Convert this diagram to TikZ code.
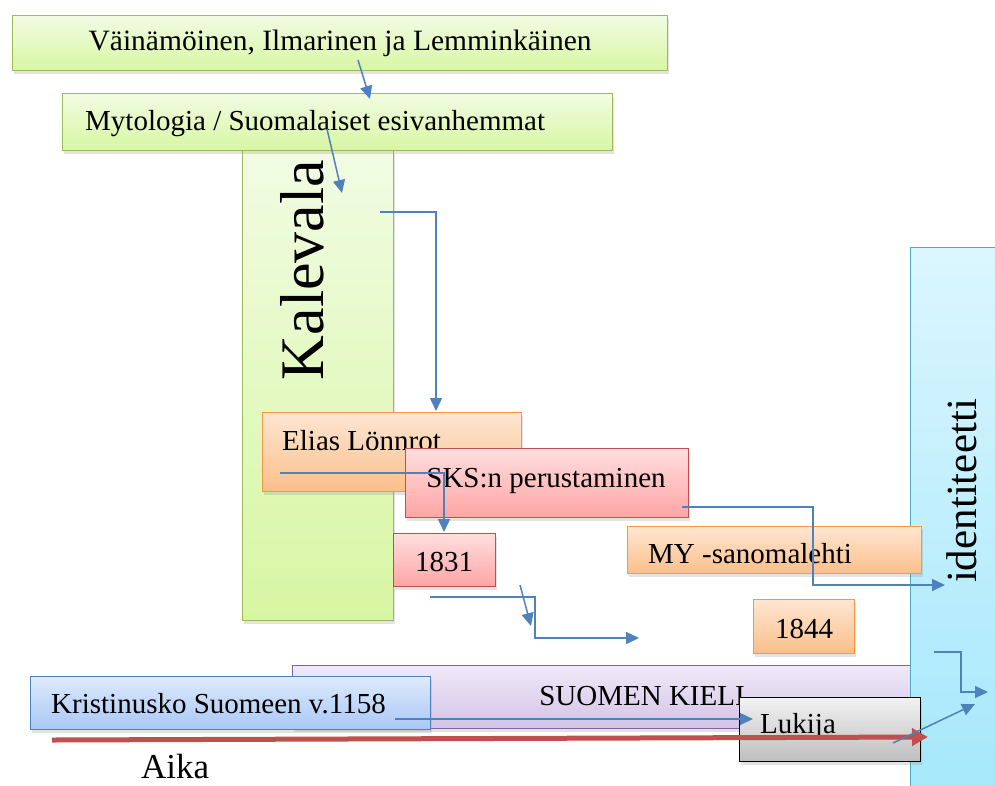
\documentclass[tikz,border=0pt]{standalone}
\usepackage{fontspec}
\setmainfont{Liberation Serif}
\usetikzlibrary{arrows.meta,shadows}
\definecolor{grnD}{HTML}{9BBB59}\definecolor{grnT}{HTML}{F1FCE3}\definecolor{grnB}{HTML}{D7F6A2}
\definecolor{orgD}{HTML}{F79646}\definecolor{orgT}{HTML}{FDE6D2}\definecolor{orgB}{HTML}{FBBF8A}
\definecolor{redD}{HTML}{C0504D}\definecolor{redT}{HTML}{FFDEDE}\definecolor{redB}{HTML}{FFA4A4}
\definecolor{purD}{HTML}{8064A2}\definecolor{purT}{HTML}{EFE9F7}\definecolor{purB}{HTML}{D3C3E7}
\definecolor{bluD}{HTML}{4F81BD}\definecolor{bluT}{HTML}{DEEAFC}\definecolor{bluB}{HTML}{A8C7F6}
\definecolor{cyaD}{HTML}{4BACC6}\definecolor{cyaT}{HTML}{DBF6FE}\definecolor{cyaB}{HTML}{A4E7FB}
\definecolor{gryT}{HTML}{F2F2F2}\definecolor{gryB}{HTML}{BEBEBE}
\definecolor{arrB}{HTML}{4F81BD}\definecolor{arrR}{HTML}{C0504D}
\tikzset{
  box/.style={anchor=north west, inner sep=0pt, line width=1.2pt, drop shadow={shadow xshift=1.5pt, shadow yshift=-3pt, opacity=0.22}},
  green/.style={box, draw=grnD, top color=grnT, bottom color=grnB},
  orange/.style={box, draw=orgD, top color=orgT, bottom color=orgB},
  redbox/.style={box, draw=redD, top color=redT, bottom color=redB},
  purple/.style={box, draw=purD, top color=purT, bottom color=purB},
  bluebox/.style={box, draw=bluD, top color=bluT, bottom color=bluB},
  cyan/.style={box, draw=cyaD, top color=cyaT, bottom color=cyaB},
  gray/.style={box, draw=black, top color=gryT, bottom color=gryB},
  txt/.style={inner sep=0pt, font=\fontsize{29}{34}\selectfont},
  conn/.style={draw=arrB, line width=1.5pt, -{Triangle[length=13pt,width=12pt]}},
  timeline/.style={draw=arrR, line width=5pt, -{Triangle[length=16pt,width=17pt]}},
}
\begin{document}
\begin{tikzpicture}[x=1pt,y=-1pt]
\useasboundingbox (0,0) rectangle (995,785);
% boxes
\node[green, minimum width=151pt, minimum height=470pt] (kal) at (242,150) {};
\node[inner sep=0pt, rotate=90, font=\fontsize{62}{70}\selectfont] (kaltxt) at (302,270) {Kalevala};
\node[green, minimum width=655pt, minimum height=55pt, font=\fontsize{29.5}{34}\selectfont] (vai) at (12,15) {Väinämöinen, Ilmarinen ja Lemminkäinen};
\node[green, minimum width=550pt, minimum height=57pt] (myt) at (62,93) {};
\node[txt, anchor=base west] (myttxt) at (85,130) {Mytologia / Suomalaiset esivanhemmat};
\node[orange, minimum width=259pt, minimum height=79pt] (eli) at (262,412) {};
\node[txt, anchor=base west] (elitxt) at (282,450) {Elias Lönnrot};
\node[redbox, minimum width=283pt, minimum height=69pt] (sks) at (405,448) {};
\node[txt, anchor=base] (skstxt) at (546,487) {SKS:n perustaminen};
\node[redbox, minimum width=102pt, minimum height=53pt] (y31) at (393,533) {};
\node[txt, anchor=base] (y31txt) at (444,571) {1831};
\node[purple, minimum width=700pt, minimum height=63pt] (kie) at (292,665) {};
\node[txt, anchor=base] (kietxt) at (642,705) {SUOMEN KIELI};
\node[cyan, minimum width=100pt, minimum height=560pt] (ide) at (910,247) {};
\node[inner sep=0pt, rotate=90, font=\fontsize{43}{50}\selectfont] (idetxt) at (962,491) {identiteetti};
\node[orange, minimum width=294pt, minimum height=47pt] (my) at (627,526) {};
\node[txt, anchor=base west] (mytxt) at (648,563) {MY -sanomalehti};
\node[orange, minimum width=101pt, minimum height=54pt] (y44) at (753,599) {};
\node[txt, anchor=base] (y44txt) at (804,638) {1844};
\node[bluebox, minimum width=400pt, minimum height=53pt] (kri) at (30,676) {};
\node[txt, anchor=base west] (kritxt) at (51,713) {Kristinusko Suomeen v.1158};
\node[gray, minimum width=181pt, minimum height=64pt] (luk) at (739,697) {};
\node[txt, anchor=base west] (luktxt) at (760,733) {Lukija};
% time axis
\coordinate (t0) at (52,740);
\coordinate (t1) at (928,737);
\draw[timeline] (t0) -- (t1);
\node[inner sep=0pt, anchor=base west, font=\fontsize{35}{40}\selectfont] (aika) at (141,778) {Aika};
% connectors
\coordinate (a1s) at (358,60);  \coordinate (a1e) at (370,99);
\coordinate (a2s) at (327,129); \coordinate (a2e) at (342,193);
\coordinate (a3s) at (380,212); \coordinate (a3e) at (436,411);
\coordinate (a4s) at (280,473); \coordinate (a4e) at (444,532);
\coordinate (a5s) at (682,507); \coordinate (a5m) at (813,585); \coordinate (a5e) at (945,585);
\coordinate (a6s) at (430,597); \coordinate (a6m) at (535,638); \coordinate (a6e) at (639,638);
\coordinate (a7s) at (520,585); \coordinate (a7e) at (531,626);
\coordinate (a8s) at (395,719); \coordinate (a8e) at (753,719);
\coordinate (a9s) at (893,743); \coordinate (a9e) at (975,704);
\coordinate (a10s) at (934,652); \coordinate (a10m) at (961,692); \coordinate (a10e) at (988,692);
\draw[conn] (a1s) -- (a1e);
\draw[conn] (a2s) -- (a2e);
\draw[conn] (a3s) -| (a3e);
\draw[conn] (a4s) -| (a4e);
\draw[conn] (a5s) -| (a5m) -- (a5e);
\draw[conn] (a6s) -| (a6m) -- (a6e);
\draw[conn] (a7s) -- (a7e);
\draw[conn] (a8s) -- (a8e);
\draw[conn] (a9s) -- (a9e);
\draw[conn] (a10s) -| (a10m) -- (a10e);
\end{tikzpicture}
\end{document}
